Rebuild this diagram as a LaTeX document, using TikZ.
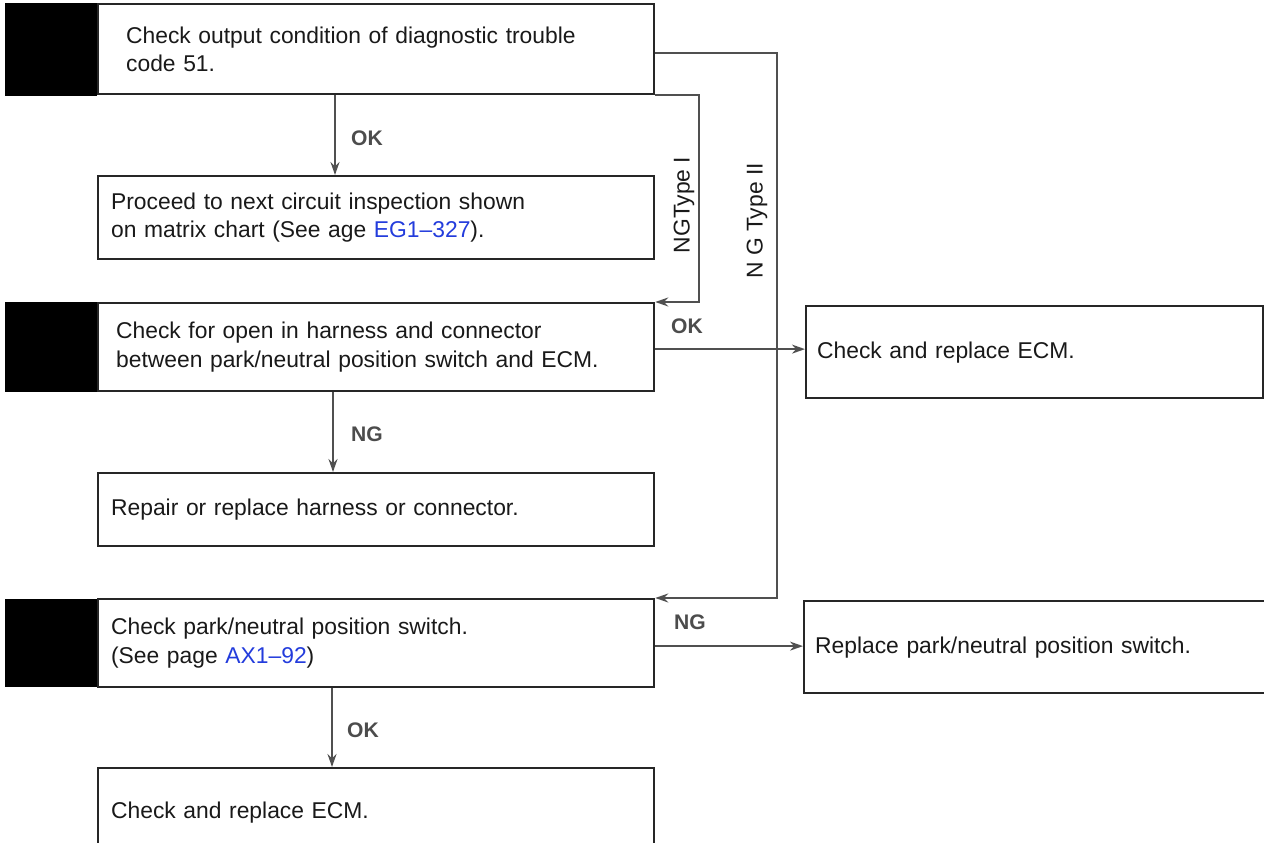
\documentclass[tikz,border=0pt]{standalone}
\usepackage{fontspec}
\setmainfont{Liberation Sans}
\usetikzlibrary{positioning,arrows.meta}
\definecolor{linkblue}{RGB}{35,60,220}
\definecolor{ln}{RGB}{80,80,80}

\begin{document}
\begin{tikzpicture}[x=0.2mm, y=-0.2mm,
            box/.style={draw=black!85, line width=0.45mm, anchor=north west, align=left,
                text width=106mm, inner xsep=2.6mm, inner ysep=0pt,
                font=\fontsize{13}{16}\selectfont, text=black!90},
            tab/.style={fill=black, inner sep=0pt, minimum width=18.4mm, anchor=east},
            lab/.style={font=\bfseries\fontsize{12}{14}\selectfont, text=black!70},
            typ/.style={font=\fontsize{13}{16}\selectfont, rotate=90, text=black!90},
            arr/.style={-{Stealth[length=2.6mm,width=1.8mm]}, draw=ln, line width=0.4mm}]

            \useasboundingbox (0,0) rectangle (1264,843);

            % left column of checks
            \node[box, minimum height=18mm, text width=100mm, inner xsep=5.6mm] (b1) at (97,3)
                {Check output condition of diagnostic trouble\\code 51.};
            \node[box, minimum height=16.6mm] (b2) at (97,175)
                {Proceed to next circuit inspection shown\\on matrix chart (See age \textcolor{linkblue}{EG1--327}).};
            \node[box, minimum height=17.6mm, text width=104mm, inner xsep=3.6mm] (b3) at (97,302)
                {Check for open in harness and connector\\between park/neutral position switch and ECM.};
            \node[box, minimum height=14.6mm] (b5) at (97,472)
                {Repair or replace harness or connector.};
            \node[box, minimum height=17.6mm] (b4) at (97,598)
                {Check park/neutral position switch.\\(See page \textcolor{linkblue}{AX1--92})};
            \node[box, minimum height=17.6mm] (b6) at (97,767)
                {Check and replace ECM.};

            % right column
            \node[box, minimum height=18.4mm, text width=87mm, inner xsep=2.2mm] (r1) at (805,305)
                {Check and replace ECM.};
            \node[box, minimum height=18.4mm, text width=87.8mm, inner xsep=2.2mm] (r2) at (803,600)
                {Replace park/neutral position switch.};

            % black tabs
            \node[tab, minimum height=18.6mm] (k1) at (b1.west) {};
            \node[tab, minimum height=18mm] (k3) at (b3.west) {};
            \node[tab, minimum height=17.6mm] (k4) at (b4.west) {};

            % connectors
            \draw[arr] ([xshift=47.6mm]b1.south west) -- ([xshift=47.6mm]b2.north west);
            \draw[arr] ([xshift=47.2mm]b3.south west) -- ([xshift=47.2mm]b5.north west);
            \draw[arr] ([xshift=47mm]b4.south west) -- ([xshift=47mm]b6.north west);
            \draw[arr] ([yshift=-0.4mm]b3.east) -- ([yshift=-0.4mm]b3.east -| r1.west);
            \draw[arr] ([yshift=-0.6mm]b4.east) -- ([yshift=-0.6mm]b4.east -| r2.west);
            \draw[arr] (b1.south east) -- ++(44,0) |- (b3.north east);
            \draw[arr] ([yshift=-0.8mm]b1.east) -- ++(122,0) |- (b4.north east);

            % labels
            \node[lab] (ok1) at (367,138) {OK};
            \node[lab] (ok2) at (687,326) {OK};
            \node[lab] (ng1) at (367,434) {NG};
            \node[lab] (ng2) at (690,622) {NG};
            \node[lab] (ok3) at (363,730) {OK};
            \node[typ] (ty1) at (684,205) {NGType I};
            \node[typ] (ty2) at (757,221) {N G Type II};
        \end{tikzpicture}
\end{document}
